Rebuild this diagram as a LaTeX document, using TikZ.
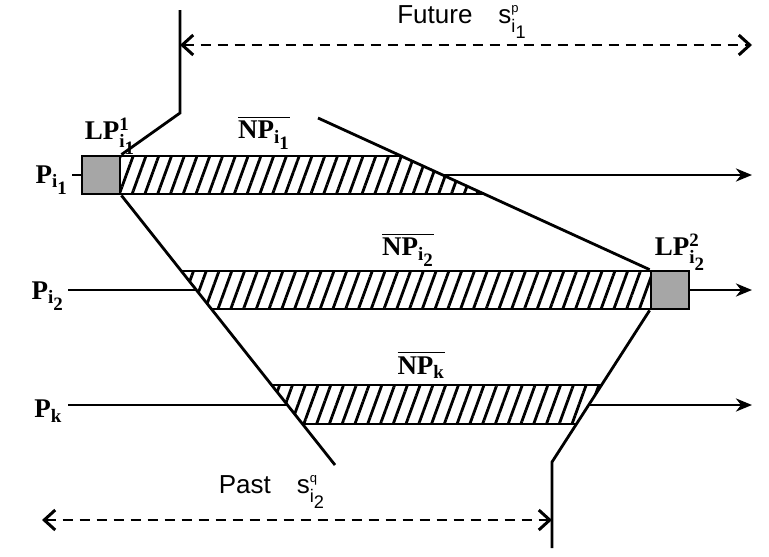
\documentclass[tikz,border=0pt]{standalone}
\usepackage{amsmath}
\usepackage{fontspec}
\setmainfont{Liberation Serif}
\setsansfont{Liberation Sans}
\usetikzlibrary{arrows.meta,patterns.meta,calc}
\tikzset{
    procline/.style={line width=2.8pt, -{Stealth[length=16pt,width=13pt,inset=5pt]}},
    cutline/.style={line width=2.8pt},
    bandedge/.style={line width=2.8pt},
    lpbox/.style={draw, line width=2.8pt, fill=gray!70, minimum width=38pt, minimum height=38pt, inner sep=0pt},
    npband/.style={preaction={fill=white}, pattern={Lines[angle=70, distance=12pt, line width=2.8pt]}},
    spanarrow/.style={line width=2.6pt, dash pattern=on 10pt off 7pt, {Straight Barb[length=11pt,width=20pt,line width=3pt]}-{Straight Barb[length=11pt,width=20pt,line width=3pt]}},
    proclabel/.style={font=\fontsize{27}{30}\selectfont\bfseries, inner sep=0pt},
    spanlabel/.style={font=\fontsize{26}{30}\selectfont\sffamily, inner sep=0pt}
}
\newcommand{\ssub}[2]{{\textbf{#1}_{\scriptstyle\textbf{#2}}}}
\newcommand{\ssf}[2]{{\textsf{#1}_{\scriptstyle\textsf{#2}}}}
\newcommand{\supsf}[1]{{\scriptscriptstyle\textsf{#1}}}

\begin{document}
\begin{tikzpicture}[x=1pt, y=-1pt]
    \useasboundingbox (0,0) rectangle (769,557);
    % processes
    \node[proclabel, anchor=east] (pi1) at (68,180) {P$_{\ssub{i}{1}}$};
    \node[proclabel, anchor=east] (pi2) at (64,296) {P$_{\ssub{i}{2}}$};
    \node[proclabel, anchor=east] (pk) at (62,411) {P$_{\textbf{k}}$};
    \coordinate (p1s) at (72,175);  \coordinate (p1e) at (752,175);
    \coordinate (p2s) at (68,290);  \coordinate (p2e) at (752,290);
    \coordinate (pks) at (68,405);  \coordinate (pke) at (752,405);
    \draw[procline] (p1s) -- (p1e);
    \draw[procline] (p2s) -- (p2e);
    \draw[procline] (pks) -- (pke);

    % non-local parts
    \path[npband] (120,156) -- (400.7,156) -- (483.4,194) -- (120,194) -- cycle;
    \path[npband] (181,271) -- (651,271) -- (651,309) -- (211,309) -- cycle;
    \path[npband] (271.5,385) -- (601.8,385) -- (576.6,424) -- (302.4,424) -- cycle;
    \draw[bandedge] (120,156) -- (400.7,156);
    \draw[bandedge] (120,194) -- (483.4,194);
    \draw[bandedge] (181,271) -- (651,271);
    \draw[bandedge] (211,309) -- (651,309);
    \draw[bandedge] (271.5,385) -- (601.8,385);
    \draw[bandedge] (302.4,424) -- (576.6,424);

    % local parts
    \node[lpbox] (lp1) at (101,175) {};
    \node[lpbox] (lp2) at (670,290) {};

    % cuts
    \coordinate (futtop) at (180,10);
    \coordinate (futknee) at (180,113);
    \coordinate (cuttop) at (318,118);
    \coordinate (cutlow) at (335,465);
    \coordinate (pastknee) at (552,462);
    \coordinate (pastbot) at (552,548);
    \draw[cutline] (futtop) -- (futknee) -- (lp1.north east);
    \draw[cutline] (cuttop) -- (lp2.north west);
    \draw[cutline] (lp1.south east) -- (cutlow);
    \draw[cutline] (lp2.south west) -- (pastknee) -- (pastbot);

    % labels
    \node[proclabel] (lp1lbl) at (110,136) {LP$^{\textbf{1}}_{\ssub{i}{1}}$};
    \node[proclabel] (np1lbl) at (264,133) {$\overline{\textbf{NP}_{\ssub{i}{1}}}$};
    \node[proclabel] (np2lbl) at (408,250) {$\overline{\textbf{NP}_{\ssub{i}{2}}}$};
    \node[proclabel] (lp2lbl) at (680,252) {LP$^{\textbf{2}}_{\ssub{i}{2}}$};
    \node[proclabel] (npklbl) at (421,365) {$\overline{\textbf{NP}_{\textbf{k}}}$};

    % future and past
    \coordinate (futl) at (180,45);  \coordinate (futr) at (752,45);
    \coordinate (pastl) at (42,520); \coordinate (pastr) at (552,520);
    \draw[spanarrow] (futl) -- (futr);
    \draw[spanarrow] (pastl) -- (pastr);
    \node[spanlabel] (futlbl) at (462,22) {Future\quad$\textsf{s}^{\supsf{p}}_{\ssf{i}{1}}$};
    \node[spanlabel] (pastlbl) at (272,492) {Past\quad$\textsf{s}^{\supsf{q}}_{\ssf{i}{2}}$};
\end{tikzpicture}
\end{document}
